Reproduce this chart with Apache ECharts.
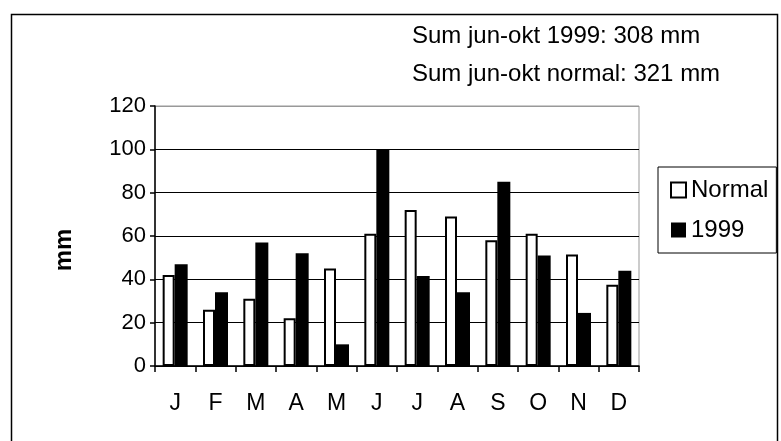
<!DOCTYPE html>
<html>
<head>
<meta charset="utf-8">
<script src="https://cdn.jsdelivr.net/npm/echarts@6/dist/echarts.min.js"></script>
<style>html,body{margin:0;padding:0;background:#fff;}#c{width:781px;height:441px;}</style>
</head>
<body>
<div id="c"></div>
<script>
const categories = ['J','F','M','A','M','J','J','A','S','O','N','D'];
const normalValues = [42, 26, 31, 22, 45, 61, 72, 69, 58, 61, 51.5, 37.5];
const values1999 = [47, 34, 57, 52, 10, 100, 41.5, 34, 85, 51, 24.5, 44];
const yTicks = [0, 20, 40, 60, 80, 100, 120];
const seriesNames = ['Normal', '1999'];
const notes = ['Sum jun-okt 1999: 308 mm', 'Sum jun-okt normal: 321 mm'];
const yTitle = 'mm';

const FONT = "'Liberation Sans', Arial, sans-serif";
const chart = echarts.init(document.getElementById('c'), null, {renderer: 'canvas'});
chart.setOption({
  animation: false,
  backgroundColor: '#fff',
  textStyle: {fontFamily: FONT},
  grid: {left: 155, right: 142, top: 106, bottom: 75, show: true, borderColor: '#999', borderWidth: 1},
  graphic: [
    {type: 'rect', shape: {x: 11.5, y: 14.5, width: 766, height: 440}, style: {fill: 'none', stroke: '#000', lineWidth: 1.5}, z: 0},
    {type: 'text', left: 412, top: 24, style: {text: notes[0], font: '24px ' + FONT, fill: '#000'}},
    {type: 'text', left: 412, top: 62, style: {text: notes[1], font: '24px ' + FONT, fill: '#000'}},
    {type: 'text', x: 64, y: 250, rotation: Math.PI / 2, style: {text: yTitle, font: 'bold 24px ' + FONT, fill: '#000', align: 'center', verticalAlign: 'middle'}}
  ],
  legend: {
    orient: 'vertical', left: 658, top: 167,
    padding: [11, 8, 11, 12],
    borderColor: '#000', borderWidth: 1,
    itemWidth: 15, itemHeight: 15, itemGap: 16,
    icon: 'rect',
    textStyle: {fontSize: 24, fontFamily: FONT, color: '#000'},
    data: seriesNames
  },
  xAxis: {
    type: 'category', data: categories,
    axisLine: {lineStyle: {color: '#000', width: 1.5}},
    axisTick: {show: true, length: 6, lineStyle: {color: '#000', width: 1.5}},
    axisLabel: {fontSize: 23, color: '#000', fontFamily: FONT, margin: 26}
  },
  yAxis: {
    type: 'value', min: yTicks[0], max: yTicks[yTicks.length - 1], interval: 20,
    axisLine: {show: true, lineStyle: {color: '#000', width: 1.5}},
    axisTick: {show: true, length: 5, lineStyle: {color: '#000', width: 1.5}},
    axisLabel: {fontSize: 22, color: '#000', fontFamily: FONT, margin: 9},
    splitLine: {show: true, lineStyle: {color: ['#000','#000','#000','#000','#000','#000','#999'], width: 1}}
  },
  series: [
    {name: seriesNames[0], type: 'bar', data: normalValues, barWidth: 12, barGap: '0%',
     itemStyle: {color: '#fff', borderColor: '#000', borderWidth: 2}},
    {name: seriesNames[1], type: 'bar', data: values1999, barWidth: 13,
     itemStyle: {color: '#000', borderColor: '#000', borderWidth: 0}}
  ]
});
</script>
</body>
</html>
